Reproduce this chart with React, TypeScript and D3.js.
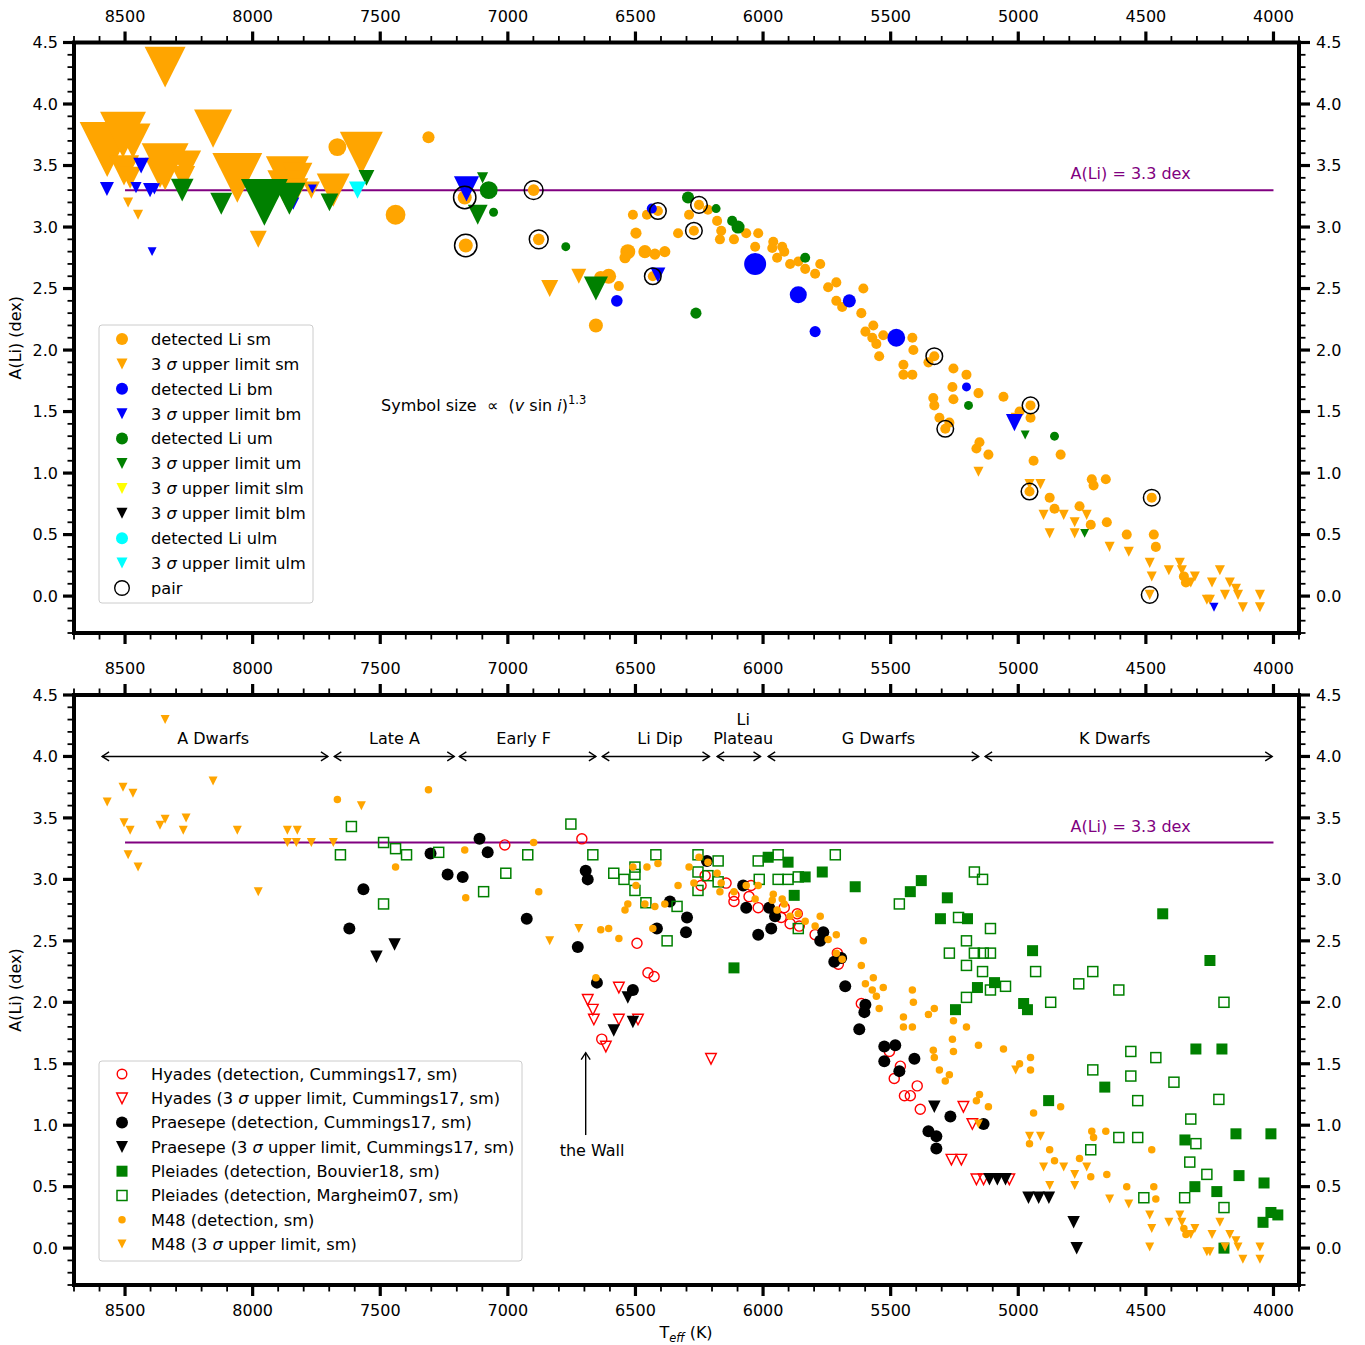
import React from "react";
import * as d3 from "d3";

// ---------- DATA (Teff [K], A(Li) [dex], v sin i [km/s]) ----------
const smDet: [number, number, number][] = [
  [7668,3.65,29],[7311,3.73,16],[7440,3.10,34],[7169,3.24,20],[7165,2.85,20],[6899,3.30,15],[6879,2.90,15],
  [6510,3.10,12],[6455,3.10,12],[6412,3.13,12],[6498,2.95,14],[6530,2.80,22],[6541,2.75,14],[6463,2.80,18],[6424,2.78,14],[6385,2.80,14],
  [6636,2.59,18],[6605,2.60,22],[6565,2.52,12],[6655,2.20,20],[6432,2.60,12],
  [6333,2.95,12],[6271,2.97,12],[6290,3.10,12],[6251,3.18,12],[6216,3.14,12],[6180,3.05,12],[6164,2.97,12],[6169,2.90,12],[6114,2.90,12],[6066,2.95,12],[6019,2.95,12],[6031,2.84,12],
  [5960,2.88,12],[5964,2.83,12],[5925,2.84,12],[5917,2.80,12],[5945,2.75,12],[5894,2.70,12],[5862,2.72,12],[5835,2.66,12],[5776,2.70,12],[5796,2.62,12],
  [5745,2.51,12],[5713,2.55,12],[5607,2.50,12],[5713,2.40,12],[5690,2.35,12],[5615,2.30,12],[5568,2.20,12],[5599,2.15,12],[5572,2.10,12],[5529,2.12,12],[5556,2.05,12],[5545,1.95,12],
  [5415,2.10,12],[5411,2.00,12],[5450,1.88,12],[5450,1.80,12],[5415,1.80,12],[5329,1.95,12],[5352,1.90,12],[5254,1.85,12],[5203,1.80,12],
  [5258,1.70,12],[5156,1.65,12],[5333,1.61,12],[5329,1.55,12],[5254,1.60,12],[5058,1.62,12],[4952,1.55,12],[4995,1.50,12],[4952,1.45,12],[5309,1.45,12],[5270,1.41,12],[5286,1.36,12],
  [5152,1.25,12],[5164,1.20,12],[5117,1.15,12],[4940,1.10,12],[4834,1.15,12],[4712,0.95,12],[4705,0.90,12],[4657,0.95,12],[4877,0.80,12],[4858,0.71,12],[4760,0.73,12],[4716,0.58,12],[4653,0.60,12],[4575,0.50,12],[4469,0.50,12],[4461,0.40,12],[4477,0.80,12],[4351,0.16,12],[4343,0.11,12],[4956,0.85,12],
];
const smUL: [number, number, number][] = [
  [8570,3.63,164],[8508,3.75,124],[8469,3.70,82],[8504,3.46,65],[8480,3.40,40],[8488,3.20,12],[8449,3.10,12],[8363,3.44,65],[8343,3.49,128],[8261,3.50,65],[8272,3.40,45],[8155,3.80,93],[8343,4.30,104],[8060,3.40,141],[7978,2.90,27],[7864,3.40,112],[7825,3.40,65],[7864,3.30,100],[7829,3.30,45],[7770,3.30,27],[7684,3.30,75],[7574,3.60,112],[6836,2.50,27],[6722,2.60,22],
  [5010,1.45,12],[5156,1.01,12],[4956,0.91,12],[4913,0.91,12],[4901,0.66,12],[4822,0.66,12],[4779,0.60,12],[4732,0.66,12],[4877,0.51,12],[4779,0.51,12],[4642,0.40,12],[4567,0.36,12],[4485,0.27,12],[4477,0.16,12],[4485,0.01,12],[4410,0.21,12],[4367,0.27,12],[4359,0.21,12],[4308,0.16,12],[4324,0.11,12],[4210,0.21,12],[4241,0.11,12],[4171,0.11,12],[4147,0.06,12],[4139,0.01,12],[4190,0.01,12],[4261,-0.03,12],[4249,-0.03,12],[4053,0.01,12],[4120,-0.09,12],[4053,-0.09,12],
];
const bmDet: [number, number, number][] = [
  [6436,3.15,12],[6573,2.40,15],[6031,2.70,40],[5862,2.45,27],[5662,2.40,18],[5796,2.15,14],[5478,2.10,29],[5203,1.70,10],
];
const bmUL: [number, number, number][] = [
  [8571,3.31,20],[8437,3.50,24],[8457,3.32,14],[8402,3.30,20],[8385,3.31,14],[8394,2.80,10],[7841,3.19,16],[7766,3.31,10],[7162,3.31,49],[6412,2.61,22],[5015,1.41,27],[4233,-0.09,10],
];
const umDet: [number, number, number][] = [
  [7075,3.30,29],[7056,3.12,10],[6773,2.84,10],[6294,3.24,16],[6263,2.30,14],[6184,3.15,10],[6121,3.05,12],[6098,3.00,18],[5835,2.75,12],[5195,1.55,10],[4858,1.30,10],
];
const umUL: [number, number, number][] = [
  [8276,3.30,42],[8123,3.19,40],[7954,3.20,128],[7856,3.23,71],[7699,3.20,29],[7554,3.40,24],[7099,3.40,14],[7118,3.10,34],[6655,2.50,46],[4973,1.31,10],[4740,0.51,10],
];
const ulmUL: [number, number, number][] = [[7589,3.30,27]];
const pairs: [number, number, number][] = [
  [7169,3.24,20],[7165,2.85,20],[6899,3.30,15],[6879,2.90,15],[6432,2.60,12],[6412,3.13,12],[6271,2.97,12],[6251,3.18,12],[5329,1.95,12],[5286,1.36,12],[4952,1.55,12],[4956,0.85,12],[4477,0.80,12],[4485,0.01,12],
];

// bottom panel clusters (Teff, A(Li))
const hyadesDet: [number, number][] = [
  [7012,3.28],[6710,3.33],[6494,2.48],[6451,2.24],[6427,2.21],[6632,1.70],[6227,3.03],[6243,2.95],[6145,2.97],[6114,2.87],[6114,2.82],[6055,2.86],[6047,2.95],[6019,2.77],[5917,2.77],[5929,2.69],[5866,2.72],[5894,2.64],[5858,2.62],[5796,2.55],[5709,2.40],[5705,2.31],[5615,1.99],[5505,1.60],[5462,1.48],[5486,1.38],[5396,1.32],[5446,1.24],[5423,1.24],[5384,1.13],
];
const hyadesUL: [number, number][] = [
  [6687,2.02],[6667,1.94],[6663,1.86],[6565,2.12],[6565,1.86],[6490,1.86],[6616,1.64],[6204,1.54],[5215,1.15],[5180,1.01],[5262,0.72],[5223,0.72],[5164,0.56],[5136,0.56],[5035,0.56],
];
const praesepeDet: [number, number][] = [
  [7111,3.33],[7303,3.21],[7079,3.22],[7236,3.04],[7177,3.02],[7566,2.92],[7621,2.60],[6926,2.68],[6695,3.07],[6687,3.00],[6726,2.45],[6651,2.16],[6510,2.10],[6365,2.82],[6416,2.60],[6298,2.69],[6302,2.57],[6220,3.15],[6078,2.95],[6066,2.77],[6019,2.55],[5968,2.60],[5976,2.77],[5953,2.70],[5764,2.57],[5776,2.50],[5721,2.33],[5694,2.36],[5678,2.13],[5599,1.98],[5603,1.92],[5623,1.78],[5525,1.64],[5482,1.65],[5525,1.52],[5407,1.54],[5466,1.44],[5266,1.07],[5136,1.01],[5352,0.95],[5321,0.91],[5321,0.81],
];
const praesepeUL: [number, number][] = [
  [7515,2.37],[7444,2.47],[6530,2.04],[6585,1.77],[6510,1.84],[5329,1.15],[5113,0.56],[5082,0.56],[5050,0.56],[4960,0.41],[4920,0.41],[4880,0.41],[4783,0.21],[4771,0.00],
];
const pleiadesB: [number, number][] = [
  [6114,2.28],[5980,3.18],[5902,3.14],[5835,3.02],[5878,2.87],[5768,3.06],[5639,2.94],[5380,2.99],[5423,2.90],[5278,2.85],[5305,2.68],[5199,2.68],[4944,2.42],[4434,2.72],[4249,2.34],[5160,2.12],[5093,2.16],[5246,1.94],[4979,1.99],[4964,1.94],[4304,1.62],[4202,1.62],[4661,1.31],[4881,1.20],[4347,0.88],[4147,0.93],[4010,0.93],[4308,0.50],[4222,0.46],[4135,0.59],[4037,0.53],[4010,0.29],[3983,0.27],[4041,0.21],[4194,0.00],
];
const pleiadesM: [number, number][] = [
  [7613,3.43],[7656,3.20],[7487,3.30],[7440,3.25],[7397,3.20],[7487,2.80],[7271,3.22],[7095,2.90],[7008,3.05],[6922,3.20],[6753,3.45],[6667,3.20],[6585,3.05],[6545,3.00],[6502,3.10],[6502,3.04],[6502,2.91],[6459,2.81],[6420,3.20],[6337,2.78],[6376,2.50],[6255,3.20],[6255,3.06],[6255,2.91],[6216,3.03],[6176,3.15],[6176,2.98],[6019,3.15],[5941,3.20],[5941,3.00],[5902,3.00],[5862,3.02],[5862,2.60],[5717,3.20],[6015,3.00],[5466,2.80],[5172,3.06],[5140,3.00],[5234,2.69],[5109,2.60],[5203,2.50],[5270,2.40],[5172,2.40],[5137,2.40],[5109,2.40],[5203,2.30],[5140,2.25],[5203,2.04],[5109,2.10],[5050,2.13],[4932,2.25],[4873,2.00],[4763,2.15],[4708,2.25],[4606,2.10],[4194,2.00],[4559,1.60],[4461,1.55],[4708,1.45],[4559,1.40],[4390,1.35],[4532,1.20],[4214,1.21],[4324,1.05],[4606,0.90],[4532,0.90],[4716,0.80],[4304,0.85],[4328,0.70],[4261,0.60],[4348,0.41],[4508,0.41],[4194,0.33],
];

// regions (start Teff, end Teff, label centre Teff, label lines)
const regionNames: string[][] = [["A Dwarfs"],["Late A"],["Early F"],["Li Dip"],["Li","Plateau"],["G Dwarfs"],["K Dwarfs"]];
const regionStart = [8590, 7680, 7190, 6630, 6180, 5980, 5130];
const regionEnd = [7705, 7210, 6655, 6210, 6010, 5155, 4005];
const regionLabelT = [8155, 7444, 6938, 6404, 6078, 5548, 4622];

const topLegendLabels = ["detected Li sm","3 σ upper limit sm","detected Li bm","3 σ upper limit bm","detected Li um","3 σ upper limit um","3 σ upper limit slm","3 σ upper limit blm","detected Li ulm","3 σ upper limit ulm","pair"];
const botLegendLabels = ["Hyades (detection, Cummings17, sm)","Hyades (3 σ upper limit, Cummings17, sm)","Praesepe (detection, Cummings17, sm)","Praesepe (3 σ upper limit, Cummings17, sm)","Pleiades (detection, Bouvier18, sm)","Pleiades (detection, Margheim07, sm)","M48 (detection, sm)","M48 (3 σ upper limit, sm)"];

const LI_PLATEAU = 3.3;
const X_MAJOR = d3.range(4000, 8501, 500);
const X_MINOR = d3.range(3900, 8701, 100).filter((t) => t % 500 !== 0);
const Y_MAJOR = d3.range(0, 10).map((i) => i * 0.5);
const Y_MINOR = d3.range(-3, 46).filter((i) => i % 5 !== 0).map((i) => i / 10);

// ---------- SCALES ----------
const W = 1365, H = 1345;
const x = d3.scaleLinear().domain([8700, 3900]).range([74, 1299]);
const yT = d3.scaleLinear().domain([-0.3, 4.5]).range([633, 42.5]);
const yB = d3.scaleLinear().domain([-0.3, 4.5]).range([1285, 695]);
const msize = d3.scalePow().exponent(0.65).domain([0, 1]).range([0, 2]);

const FONT = "DejaVu Sans, Liberation Sans, sans-serif";
const FS = 16;
const ORANGE = "#FFA500", BLUE = "#0000FF", GREEN = "#008000", CYAN = "#00FFFF", YELLOW = "#FFFF00", RED = "#FF0000", PURPLE = "#800080";

const triPath = (cx: number, cy: number, d: number) =>
  `M${cx},${cy + d / 2}L${cx - d / 2},${cy - d / 2}L${cx + d / 2},${cy - d / 2}Z`;

function Marker({ kind, cx, cy, d, color }: { kind: string; cx: number; cy: number; d: number; color: string }) {
  switch (kind) {
    case "circle": return <circle cx={cx} cy={cy} r={d / 2} fill={color} />;
    case "ring": return <circle cx={cx} cy={cy} r={d / 2 - 0.7} fill="none" stroke={color} strokeWidth={1.4} />;
    case "tri": return <path d={triPath(cx, cy, d)} fill={color} />;
    case "triOpen": return <path d={triPath(cx, cy, d - 1.4)} fill="none" stroke={color} strokeWidth={1.4} />;
    case "square": return <rect x={cx - d / 2} y={cy - d / 2} width={d} height={d} fill={color} />;
    case "squareOpen": return <rect x={cx - d / 2 + 0.75} y={cy - d / 2 + 0.75} width={d - 1.5} height={d - 1.5} fill="none" stroke={color} strokeWidth={1.5} />;
    default: return null;
  }
}

function SigmaText({ label, x0, y0, size = FS, fill = "#000" }: { label: string; x0: number; y0: number; size?: number; fill?: string }) {
  const parts = label.split("σ");
  return (
    <text x={x0} y={y0} fontSize={size} fontFamily={FONT} fill={fill} dy="0.36em">
      {parts[0]}
      {parts.length > 1 && <tspan fontStyle="italic">σ</tspan>}
      {parts.length > 1 && parts[1]}
    </text>
  );
}

function Axes({ y, top, bottom, labelTop, labelBottom }: { y: any; top: number; bottom: number; labelTop: boolean; labelBottom: boolean }) {
  const L = x.range()[0], R = x.range()[1];
  const fmt = d3.format(".1f");
  const els: any[] = [];
  X_MAJOR.forEach((t) => {
    els.push(<line key={"xt" + t} x1={x(t)} x2={x(t)} y1={top} y2={top - 11} stroke="#000" strokeWidth={3.2} />);
    els.push(<line key={"xb" + t} x1={x(t)} x2={x(t)} y1={bottom} y2={bottom + 11} stroke="#000" strokeWidth={3.2} />);
    if (labelTop) els.push(<text key={"xlt" + t} x={x(t)} y={top - 21} textAnchor="middle" fontSize={FS} fontFamily={FONT}>{t}</text>);
    if (labelBottom) els.push(<text key={"xlb" + t} x={x(t)} y={bottom + 31} textAnchor="middle" fontSize={FS} fontFamily={FONT}>{t}</text>);
  });
  X_MINOR.forEach((t) => {
    els.push(<line key={"xmt" + t} x1={x(t)} x2={x(t)} y1={top} y2={top - 6.5} stroke="#000" strokeWidth={1.8} />);
    els.push(<line key={"xmb" + t} x1={x(t)} x2={x(t)} y1={bottom} y2={bottom + 6.5} stroke="#000" strokeWidth={1.8} />);
  });
  Y_MAJOR.forEach((v) => {
    els.push(<line key={"yl" + v} x1={L} x2={L - 11} y1={y(v)} y2={y(v)} stroke="#000" strokeWidth={3.2} />);
    els.push(<line key={"yr" + v} x1={R} x2={R + 11} y1={y(v)} y2={y(v)} stroke="#000" strokeWidth={3.2} />);
    els.push(<text key={"yll" + v} x={L - 16} y={y(v)} dy="0.36em" textAnchor="end" fontSize={FS} fontFamily={FONT}>{fmt(v)}</text>);
    els.push(<text key={"ylr" + v} x={R + 17} y={y(v)} dy="0.36em" textAnchor="start" fontSize={FS} fontFamily={FONT}>{fmt(v)}</text>);
  });
  Y_MINOR.forEach((v) => {
    els.push(<line key={"yml" + v} x1={L} x2={L - 6.5} y1={y(v)} y2={y(v)} stroke="#000" strokeWidth={1.8} />);
    els.push(<line key={"ymr" + v} x1={R} x2={R + 6.5} y1={y(v)} y2={y(v)} stroke="#000" strokeWidth={1.8} />);
  });
  return (
    <g>
      {els}
      <rect x={L} y={top} width={R - L} height={bottom - top} fill="none" stroke="#000" strokeWidth={4} />
      <text transform={`translate(21,${(top + bottom) / 2}) rotate(-90)`} textAnchor="middle" fontSize={FS} fontFamily={FONT}>A(Li) (dex)</text>
    </g>
  );
}

function Arrow({ x1, x2, yy }: { x1: number; x2: number; yy: number }) {
  const h = 7, w = 4.5;
  return (
    <g stroke="#000" strokeWidth={1.4} fill="none">
      <line x1={x1} x2={x2} y1={yy} y2={yy} />
      <polyline points={`${x1 + h},${yy - w} ${x1},${yy} ${x1 + h},${yy + w}`} />
      <polyline points={`${x2 - h},${yy - w} ${x2},${yy} ${x2 - h},${yy + w}`} />
    </g>
  );
}

export default function App() {
  const topSeries: { data: [number, number, number][]; kind: string; color: string }[] = [
    { data: smDet, kind: "circle", color: ORANGE },
    { data: smUL, kind: "tri", color: ORANGE },
    { data: bmDet, kind: "circle", color: BLUE },
    { data: bmUL, kind: "tri", color: BLUE },
    { data: umDet, kind: "circle", color: GREEN },
    { data: umUL, kind: "tri", color: GREEN },
    { data: ulmUL, kind: "tri", color: CYAN },
  ];
  const topLegendMarkers = [
    { kind: "circle", color: ORANGE, d: 12 }, { kind: "tri", color: ORANGE, d: 11 },
    { kind: "circle", color: BLUE, d: 12 }, { kind: "tri", color: BLUE, d: 11 },
    { kind: "circle", color: GREEN, d: 12 }, { kind: "tri", color: GREEN, d: 11 },
    { kind: "tri", color: YELLOW, d: 11 }, { kind: "tri", color: "#000", d: 11 },
    { kind: "circle", color: CYAN, d: 12 }, { kind: "tri", color: CYAN, d: 11 },
    { kind: "ring", color: "#000", d: 16 },
  ];
  const botSeries: { data: [number, number][]; kind: string; color: string; d: number }[] = [
    { data: hyadesDet, kind: "ring", color: RED, d: 11.5 },
    { data: hyadesUL, kind: "triOpen", color: RED, d: 12 },
    { data: praesepeDet, kind: "circle", color: "#000", d: 12 },
    { data: praesepeUL, kind: "tri", color: "#000", d: 12.5 },
    { data: pleiadesB, kind: "square", color: GREEN, d: 11 },
    { data: pleiadesM, kind: "squareOpen", color: GREEN, d: 11.5 },
    { data: smDet.map((p) => [p[0], p[1]] as [number, number]), kind: "circle", color: ORANGE, d: 7.5 },
    { data: smUL.map((p) => [p[0], p[1]] as [number, number]), kind: "tri", color: ORANGE, d: 9 },
  ];
  const botLegendMarkers = [
    { kind: "ring", color: RED, d: 11 }, { kind: "triOpen", color: RED, d: 12 },
    { kind: "circle", color: "#000", d: 12 }, { kind: "tri", color: "#000", d: 12 },
    { kind: "square", color: GREEN, d: 11 }, { kind: "squareOpen", color: GREEN, d: 11.5 },
    { kind: "circle", color: ORANGE, d: 7.5 }, { kind: "tri", color: ORANGE, d: 9 },
  ];

  const topLegendY0 = 339, topLegendDy = 24.9;
  const botLegendY0 = 1074, botLegendDy = 24.3;

  return (
    <svg width={W} height={H} style={{ position: "absolute", left: 0, top: 0, background: "#fff" }} fontFamily={FONT}>
      <rect x={0} y={0} width={W} height={H} fill="#fff" />
      {/* ---------- TOP PANEL ---------- */}
      <line x1={x(8500)} x2={x(4000)} y1={yT(LI_PLATEAU)} y2={yT(LI_PLATEAU)} stroke={PURPLE} strokeWidth={2} />
      <text x={x(4560)} y={yT(3.3) - 11} textAnchor="middle" fontSize={FS} fill={PURPLE}>A(Li) = 3.3 dex</text>
      {topSeries.map((s, si) => (
        <g key={"ts" + si}>
          {s.data.map((p, i) => (
            <Marker key={i} kind={s.kind} cx={x(p[0])} cy={yT(p[1])} d={msize(p[2])} color={s.color} />
          ))}
        </g>
      ))}
      <g>
        {pairs.map((p, i) => (
          <circle key={"pr" + i} cx={x(p[0])} cy={yT(p[1])} r={(1.45 * msize(p[2]) + 2) / 2} fill="none" stroke="#000" strokeWidth={1.5} />
        ))}
      </g>
      <text x={381} y={411} fontSize={FS}>
        {"Symbol size\u00a0\u00a0∝\u00a0\u00a0("}
        <tspan fontStyle="italic">v</tspan>
        {" sin "}
        <tspan fontStyle="italic">i</tspan>
        {")"}
        <tspan dy={-7} fontSize={11.5}>1.3</tspan>
      </text>
      <rect x={99} y={325} width={214} height={278} rx={3} fill="#fff" fillOpacity={0.8} stroke="#cccccc" strokeWidth={1} />
      {topLegendLabels.map((lab, i) => (
        <g key={"tl" + i}>
          <Marker kind={topLegendMarkers[i].kind} cx={122} cy={topLegendY0 + i * topLegendDy} d={topLegendMarkers[i].d} color={topLegendMarkers[i].color} />
          <SigmaText label={lab} x0={151} y0={topLegendY0 + i * topLegendDy} size={16.2} />
        </g>
      ))}
      <Axes y={yT} top={42.5} bottom={633} labelTop={true} labelBottom={false} />

      {/* ---------- BOTTOM PANEL ---------- */}
      <line x1={x(8500)} x2={x(4000)} y1={yB(LI_PLATEAU)} y2={yB(LI_PLATEAU)} stroke={PURPLE} strokeWidth={2} />
      <text x={x(4560)} y={yB(3.3) - 11} textAnchor="middle" fontSize={FS} fill={PURPLE}>A(Li) = 3.3 dex</text>
      {botSeries.map((s, si) => (
        <g key={"bs" + si}>
          {s.data.map((p, i) => (
            <Marker key={i} kind={s.kind} cx={x(p[0])} cy={yB(p[1])} d={s.d} color={s.color} />
          ))}
        </g>
      ))}
      {regionNames.map((lines, i) => (
        <g key={"rg" + i}>
          <Arrow x1={x(regionStart[i])} x2={x(regionEnd[i])} yy={yB(4.0)} />
          {lines.map((ln, j) => (
            <text key={j} x={x(regionLabelT[i])} y={yB(4.1) - (lines.length - 1 - j) * 19} textAnchor="middle" fontSize={FS}>{ln}</text>
          ))}
        </g>
      ))}
      <g stroke="#000" strokeWidth={1.4} fill="none">
        <line x1={x(6695)} x2={x(6695)} y1={yB(0.92)} y2={yB(1.59)} />
        <polyline points={`${x(6695) - 4.5},${yB(1.59) + 7} ${x(6695)},${yB(1.59)} ${x(6695) + 4.5},${yB(1.59) + 7}`} />
      </g>
      <text x={x(6670)} y={yB(0.75)} textAnchor="middle" fontSize={FS}>the Wall</text>
      <rect x={99} y={1061} width={423} height={200} rx={3} fill="#fff" fillOpacity={0.8} stroke="#cccccc" strokeWidth={1} />
      {botLegendLabels.map((lab, i) => (
        <g key={"bl" + i}>
          <Marker kind={botLegendMarkers[i].kind} cx={122} cy={botLegendY0 + i * botLegendDy} d={botLegendMarkers[i].d} color={botLegendMarkers[i].color} />
          <SigmaText label={lab} x0={151} y0={botLegendY0 + i * botLegendDy} size={16.2} />
        </g>
      ))}
      <Axes y={yB} top={695} bottom={1285} labelTop={true} labelBottom={true} />
      <text x={686} y={1338} textAnchor="middle" fontSize={FS}>
        T<tspan dy={4} fontSize={11.5} fontStyle="italic">eff</tspan>
        <tspan dy={-4}>{" (K)"}</tspan>
      </text>
    </svg>
  );
}
